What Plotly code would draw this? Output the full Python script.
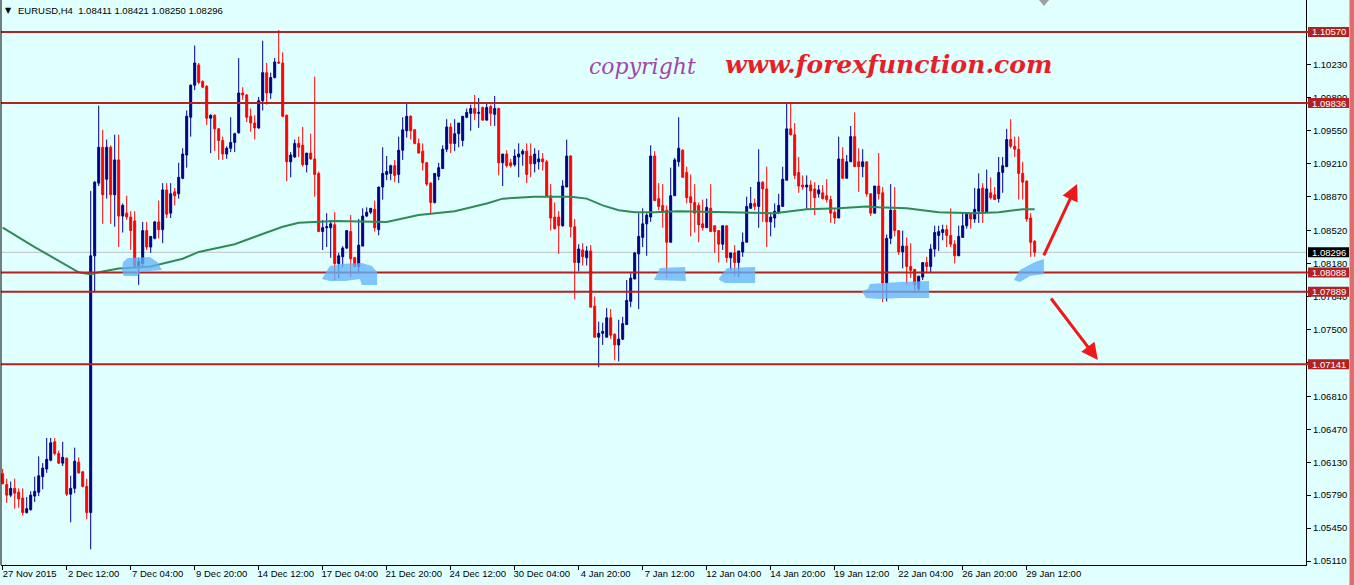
import plotly.graph_objects as go

# ---------------- data (EURUSD H4) ----------------
opens = [
    1.0601, 1.0590, 1.0579, 1.0586, 1.0582, 1.0576, 1.0561, 1.0564, 1.0578, 1.0582,
    1.0598, 1.0606, 1.0615, 1.0634, 1.0622, 1.0612, 1.0617, 1.0580, 1.0586, 1.0613,
    1.0603, 1.0588, 1.0561, 1.0826, 1.0901, 1.0938, 1.0905, 1.0938, 1.0889, 1.0925,
    1.0867, 1.0870, 1.0866, 1.0862, 1.0815, 1.0818, 1.0852, 1.0835, 1.0844, 1.0861,
    1.0853, 1.0894, 1.0870, 1.0892, 1.0890, 1.0906, 1.0930, 1.0969, 1.1002, 1.1023,
    1.1006, 1.1001, 1.0968, 1.0971, 1.0957, 1.0945, 1.0931, 1.0937, 1.0943, 1.0953,
    1.0994, 1.0992, 1.0970, 1.0963, 1.0958, 1.0986, 1.1015, 1.0994, 1.1010, 1.1026,
    1.1025, 1.0971, 1.0923, 1.0928, 1.0942, 1.0940, 1.0920, 1.0932, 1.0926, 1.0911,
    1.0851, 1.0855, 1.0855, 1.0858, 1.0818, 1.0825, 1.0834, 1.0851, 1.0824, 1.0815,
    1.0836, 1.0867, 1.0871, 1.0874, 1.0853, 1.0897, 1.0910, 1.0911, 1.0919, 1.0910,
    1.0935, 1.0955, 1.0970, 1.0956, 1.0942, 1.0934, 1.0922, 1.0901, 1.0881, 1.0908,
    1.0916, 1.0936, 1.0959, 1.0942, 1.0952, 1.0945, 1.0969, 1.0973, 1.0978, 1.0973,
    1.0979, 1.0966, 1.0980, 1.0972, 1.0978, 1.0922, 1.0931, 1.0922, 1.0920, 1.0928,
    1.0931, 1.0934, 1.0929, 1.0921, 1.0923, 1.0926, 1.0923, 1.0888, 1.0866, 1.0866,
    1.0857, 1.0897, 1.0929, 1.0856, 1.0819, 1.0832, 1.0824, 1.0831, 1.0774, 1.0742,
    1.0746, 1.0742, 1.0762, 1.0745, 1.0734, 1.0740, 1.0755, 1.0779, 1.0802, 1.0828,
    1.0845, 1.0859, 1.0866, 1.0929, 1.0885, 1.0878, 1.0873, 1.0840, 1.0888, 1.0923,
    1.0935, 1.0912, 1.0887, 1.0881, 1.0878, 1.0859, 1.0855, 1.0875, 1.0857, 1.0852,
    1.0838, 1.0857, 1.0824, 1.0829, 1.0819, 1.0830, 1.0840, 1.0875, 1.0880, 1.0877,
    1.0902, 1.0895, 1.0861, 1.0865, 1.0871, 1.0877, 1.0904, 1.0957, 1.0951, 1.0912,
    1.0899, 1.0897, 1.0899, 1.0895, 1.0890, 1.0891, 1.0888, 1.0884, 1.0871, 1.0865,
    1.0926, 1.0906, 1.0923, 1.0949, 1.0923, 1.0918, 1.0923, 1.0890, 1.0870, 1.0898,
    1.0891, 1.0798, 1.0844, 1.0873, 1.0852, 1.0830, 1.0836, 1.0815, 1.0812, 1.0792,
    1.0804, 1.0819, 1.0815, 1.0833, 1.0847, 1.0850, 1.0853, 1.0847, 1.0838, 1.0826,
    1.0845, 1.0857, 1.0869, 1.0864, 1.0872, 1.0896, 1.0871, 1.0891, 1.0889, 1.0885,
    1.0912, 1.0918, 1.0946, 1.0939, 1.0936, 1.0911, 1.0903, 1.0865, 1.08411,
]
highs = [
    1.0606, 1.0596, 1.0593, 1.0596, 1.0586, 1.0586, 1.0577, 1.0583, 1.0598, 1.0619,
    1.0612, 1.0638, 1.0638, 1.0638, 1.0625, 1.0634, 1.0618, 1.0599, 1.0628, 1.0618,
    1.0604, 1.0596, 1.0893, 1.0903, 1.0981, 1.0956, 1.0946, 1.0940, 1.0951, 1.0951,
    1.0880, 1.0888, 1.0872, 1.0872, 1.0824, 1.0861, 1.0861, 1.0846, 1.0862, 1.0883,
    1.0901, 1.0901, 1.0901, 1.0896, 1.0922, 1.0937, 1.0976, 1.1003, 1.1043, 1.1025,
    1.1007, 1.1002, 1.0972, 1.0972, 1.0958, 1.0949, 1.0939, 1.0969, 1.0953, 1.1030,
    1.1000, 1.0993, 1.0978, 1.0971, 1.0990, 1.1048, 1.1025, 1.1015, 1.1030, 1.1059,
    1.1036, 1.0972, 1.0933, 1.0946, 1.0949, 1.0959, 1.0932, 1.0952, 1.1011, 1.0913,
    1.0863, 1.0870, 1.0863, 1.0871, 1.0829, 1.0836, 1.0852, 1.0868, 1.0825, 1.0864,
    1.0875, 1.0876, 1.0875, 1.0883, 1.0897, 1.0938, 1.0929, 1.0920, 1.0925, 1.0949,
    1.0969, 1.0984, 1.0971, 1.0957, 1.0947, 1.0942, 1.0923, 1.0902, 1.0911, 1.0922,
    1.0940, 1.0967, 1.0963, 1.0967, 1.0963, 1.0970, 1.0978, 1.0982, 1.0992, 1.0989,
    1.0980, 1.0984, 1.0982, 1.0991, 1.0979, 1.0931, 1.0935, 1.0926, 1.0936, 1.0942,
    1.0936, 1.0942, 1.0942, 1.0937, 1.0935, 1.0932, 1.0925, 1.0900, 1.0881, 1.0872,
    1.0904, 1.0946, 1.0930, 1.0864, 1.0838, 1.0839, 1.0836, 1.0837, 1.0784, 1.0758,
    1.0757, 1.0772, 1.0771, 1.0746, 1.0760, 1.0763, 1.0801, 1.0808, 1.0830, 1.0870,
    1.0875, 1.0870, 1.0940, 1.0934, 1.0901, 1.0900, 1.0878, 1.0917, 1.0927, 1.0969,
    1.0936, 1.0918, 1.0910, 1.0900, 1.0881, 1.0884, 1.0885, 1.0900, 1.0857, 1.0852,
    1.0857, 1.0857, 1.0829, 1.0837, 1.0831, 1.0850, 1.0887, 1.0897, 1.0885, 1.0936,
    1.0903, 1.0918, 1.0870, 1.0880, 1.0890, 1.0918, 1.0984, 1.0984, 1.0963, 1.0928,
    1.0909, 1.0909, 1.0904, 1.0902, 1.0899, 1.0899, 1.0905, 1.0888, 1.0874, 1.0949,
    1.0938, 1.0930, 1.0960, 1.0974, 1.0937, 1.0936, 1.0923, 1.0890, 1.0898, 1.0932,
    1.0897, 1.0848, 1.0900, 1.0897, 1.0852, 1.0852, 1.0845, 1.0839, 1.0812, 1.0805,
    1.0819, 1.0825, 1.0838, 1.0857, 1.0857, 1.0858, 1.0858, 1.0875, 1.0842, 1.0857,
    1.0870, 1.0871, 1.0870, 1.0896, 1.0911, 1.0901, 1.0915, 1.0907, 1.0897, 1.0928,
    1.0928, 1.0957, 1.0967, 1.0949, 1.0949, 1.0923, 1.0904, 1.0870, 1.08421,
]
lows = [
    1.0590, 1.0571, 1.0577, 1.0565, 1.0566, 1.0558, 1.0560, 1.0563, 1.0572, 1.0578,
    1.0585, 1.0602, 1.0614, 1.0620, 1.0611, 1.0609, 1.0578, 1.0551, 1.0581, 1.0601,
    1.0587, 1.0554, 1.0523, 1.0789, 1.0898, 1.0859, 1.0885, 1.0859, 1.0856, 1.0835,
    1.0850, 1.0863, 1.0832, 1.0814, 1.0796, 1.0815, 1.0832, 1.0829, 1.0843, 1.0844,
    1.0839, 1.0865, 1.0865, 1.0878, 1.0885, 1.0905, 1.0917, 1.0949, 1.0997, 1.1003,
    1.0999, 1.0961, 1.0932, 1.0934, 1.0925, 1.0925, 1.0926, 1.0933, 1.0933, 1.0952,
    1.0987, 1.0964, 1.0954, 1.0946, 1.0957, 1.0976, 1.0982, 1.0988, 1.1009, 1.1024,
    1.0969, 1.0903, 1.0907, 1.0927, 1.0928, 1.0918, 1.0912, 1.0925, 1.0887, 1.0851,
    1.0832, 1.0835, 1.0824, 1.0801, 1.0803, 1.0814, 1.0833, 1.0804, 1.0814, 1.0808,
    1.0836, 1.0866, 1.0869, 1.0851, 1.0847, 1.0884, 1.0904, 1.0904, 1.0902, 1.0901,
    1.0925, 1.0948, 1.0946, 1.0941, 1.0932, 1.0914, 1.0898, 1.0870, 1.0880, 1.0904,
    1.0916, 1.0933, 1.0932, 1.0934, 1.0938, 1.0939, 1.0968, 1.0955, 1.0966, 1.0958,
    1.0966, 1.0966, 1.0960, 1.0960, 1.0909, 1.0898, 1.0917, 1.0917, 1.0918, 1.0907,
    1.0919, 1.0901, 1.0907, 1.0912, 1.0915, 1.0914, 1.0887, 1.0852, 1.0853, 1.0828,
    1.0856, 1.0897, 1.0845, 1.0781, 1.0810, 1.0816, 1.0816, 1.0773, 1.0742, 1.0711,
    1.0734, 1.0742, 1.0740, 1.0718, 1.0717, 1.0739, 1.0755, 1.0773, 1.0802, 1.0771,
    1.0835, 1.0826, 1.0861, 1.0883, 1.0873, 1.0855, 1.0803, 1.0840, 1.0888, 1.0918,
    1.0907, 1.0880, 1.0846, 1.0850, 1.0840, 1.0852, 1.0855, 1.0851, 1.0829, 1.0819,
    1.0832, 1.0819, 1.0811, 1.0805, 1.0804, 1.0825, 1.0840, 1.0875, 1.0873, 1.0855,
    1.0861, 1.0835, 1.0846, 1.0855, 1.0869, 1.0877, 1.0904, 1.0950, 1.0905, 1.0891,
    1.0894, 1.0874, 1.0874, 1.0868, 1.0886, 1.0884, 1.0881, 1.0860, 1.0859, 1.0865,
    1.0906, 1.0906, 1.0923, 1.0918, 1.0892, 1.0907, 1.0887, 1.0867, 1.0870, 1.0884,
    1.0778, 1.0779, 1.0838, 1.0846, 1.0827, 1.0813, 1.0796, 1.0803, 1.0789, 1.0789,
    1.0801, 1.0808, 1.0808, 1.0825, 1.0831, 1.0842, 1.0835, 1.0835, 1.0818, 1.0826,
    1.0845, 1.0854, 1.0854, 1.0860, 1.0860, 1.0860, 1.0871, 1.0884, 1.0884, 1.0881,
    1.0891, 1.0918, 1.0937, 1.0928, 1.0884, 1.0884, 1.0861, 1.0825, 1.08250,
]
closes = [
    1.0591, 1.0579, 1.0586, 1.0581, 1.0575, 1.0561, 1.0565, 1.0579, 1.0583, 1.0599,
    1.0607, 1.0616, 1.0633, 1.0622, 1.0612, 1.0618, 1.0580, 1.0586, 1.0614, 1.0602,
    1.0588, 1.0561, 1.0826, 1.0902, 1.0938, 1.0889, 1.0938, 1.0889, 1.0925, 1.0867,
    1.0878, 1.0866, 1.0852, 1.0815, 1.0820, 1.0852, 1.0835, 1.0846, 1.0861, 1.0853,
    1.0894, 1.0869, 1.0890, 1.0888, 1.0907, 1.0931, 1.0970, 1.1002, 1.1025, 1.1005,
    1.1000, 1.0968, 1.0971, 1.0957, 1.0945, 1.0931, 1.0937, 1.0943, 1.0952, 1.0994,
    1.0992, 1.0969, 1.0963, 1.0958, 1.0986, 1.1015, 1.0994, 1.1010, 1.1026, 1.1025,
    1.0970, 1.0923, 1.0930, 1.0942, 1.0938, 1.0920, 1.0932, 1.0926, 1.0910, 1.0851,
    1.0855, 1.0856, 1.0859, 1.0818, 1.0826, 1.0834, 1.0852, 1.0823, 1.0815, 1.0837,
    1.0867, 1.0871, 1.0875, 1.0855, 1.0897, 1.0911, 1.0913, 1.0919, 1.0909, 1.0935,
    1.0956, 1.0970, 1.0955, 1.0942, 1.0932, 1.0922, 1.0900, 1.0881, 1.0911, 1.0917,
    1.0936, 1.0959, 1.0942, 1.0952, 1.0963, 1.0970, 1.0974, 1.0978, 1.0973, 1.0974,
    1.0966, 1.0979, 1.0973, 1.0978, 1.0922, 1.0931, 1.0919, 1.0919, 1.0929, 1.0931,
    1.0934, 1.0910, 1.0921, 1.0931, 1.0926, 1.0923, 1.0887, 1.0865, 1.0854, 1.0857,
    1.0898, 1.0929, 1.0856, 1.0819, 1.0833, 1.0825, 1.0831, 1.0773, 1.0742, 1.0746,
    1.0748, 1.0762, 1.0744, 1.0734, 1.0740, 1.0756, 1.0780, 1.0803, 1.0829, 1.0846,
    1.0859, 1.0868, 1.0929, 1.0883, 1.0877, 1.0872, 1.0840, 1.0888, 1.0925, 1.0937,
    1.0907, 1.0886, 1.0881, 1.0870, 1.0858, 1.0855, 1.0876, 1.0851, 1.0851, 1.0838,
    1.0857, 1.0824, 1.0829, 1.0819, 1.0831, 1.0840, 1.0877, 1.0880, 1.0877, 1.0902,
    1.0895, 1.0861, 1.0866, 1.0872, 1.0878, 1.0905, 1.0957, 1.0951, 1.0909, 1.0898,
    1.0897, 1.0899, 1.0893, 1.0886, 1.0894, 1.0885, 1.0884, 1.0870, 1.0865, 1.0926,
    1.0906, 1.0923, 1.0949, 1.0918, 1.0918, 1.0923, 1.0890, 1.0870, 1.0898, 1.0890,
    1.0798, 1.0844, 1.0873, 1.0852, 1.0830, 1.0836, 1.0815, 1.0811, 1.0796, 1.0805,
    1.0819, 1.0815, 1.0833, 1.0850, 1.0851, 1.0853, 1.0847, 1.0838, 1.0826, 1.0846,
    1.0857, 1.0869, 1.0864, 1.0874, 1.0895, 1.0870, 1.0895, 1.0886, 1.0884, 1.0912,
    1.0919, 1.0946, 1.0939, 1.0936, 1.0911, 1.0902, 1.0864, 1.0840, 1.08296,
]

# moving average (green line), sampled at bar indices
ma_bar = [0, 8, 19, 22, 24, 29, 37, 41, 45, 49, 58, 66, 70, 74, 83, 96, 104, 113, 121,
          125, 133, 142, 146, 150, 154, 158, 163, 169, 180, 193, 201, 209, 216, 219,
          226, 234, 243, 249, 255, 258]
ma_val = [1.0855, 1.0835, 1.0809, 1.0807, 1.0809, 1.0813, 1.0815, 1.0819, 1.0823, 1.0830,
          1.0838, 1.0850, 1.0856, 1.0860, 1.0862, 1.0861, 1.0868, 1.0872, 1.0880,
          1.0885, 1.0887, 1.0887, 1.0885, 1.0878, 1.0873, 1.0871, 1.0871, 1.0872, 1.0871,
          1.0870, 1.0874, 1.0875, 1.0877, 1.0876, 1.0875, 1.0871, 1.0870, 1.0871, 1.0874,
          1.0874]

# time axis labels (every 16 bars)
x_labels = ["27 Nov 2015", "2 Dec 12:00", "7 Dec 04:00", "9 Dec 20:00", "14 Dec 12:00",
            "17 Dec 04:00", "21 Dec 20:00", "24 Dec 12:00", "30 Dec 04:00", "4 Jan 20:00",
            "7 Jan 12:00", "12 Jan 04:00", "14 Jan 20:00", "19 Jan 12:00", "22 Jan 04:00",
            "26 Jan 20:00", "29 Jan 12:00"]
label_step = 16

# price scale labels
y_ticks = [1.10570, 1.10230, 1.09890, 1.09550, 1.09210, 1.08870, 1.08520, 1.08180,
           1.07840, 1.07500, 1.07160, 1.06810, 1.06470, 1.06130, 1.05790, 1.05450, 1.05110]

# horizontal support / resistance levels and current price
levels = [1.10570, 1.09836, 1.08088, 1.07889, 1.07141]
current_price = 1.08296

# hand-drawn blue highlight blobs, (bar, price) vertices
patches = [
    [(29.8, 1.08113), (30.1, 1.08196), (31.3, 1.08237), (36.8, 1.08248), (38.6, 1.08196),
     (39.8, 1.08113), (36.8, 1.08103), (34.3, 1.08093), (33.8, 1.08051), (30.3, 1.08051)],
    [(79.8, 1.08021), (81.8, 1.08155), (84.3, 1.08175), (89.8, 1.08186), (92.3, 1.08155),
     (93.6, 1.08093), (93.6, 1.07959), (89.8, 1.07959), (89.3, 1.08021), (85.6, 1.08000),
     (81.8, 1.08000)],
    [(162.8, 1.08010), (164.3, 1.08134), (170.6, 1.08144), (170.8, 1.08000)],
    [(179.1, 1.08030), (181.1, 1.08134), (188.1, 1.08144), (188.1, 1.07979),
     (180.6, 1.07979), (179.1, 1.08010)],
    [(214.8, 1.07897), (216.3, 1.07917), (216.8, 1.07969), (224.3, 1.07990),
     (231.6, 1.08000), (231.6, 1.07824), (224.3, 1.07824), (219.3, 1.07814),
     (215.8, 1.07824)],
    [(252.8, 1.08010), (254.3, 1.08113), (258.1, 1.08196), (260.3, 1.08227),
     (260.3, 1.08072), (256.8, 1.08051), (254.3, 1.07990)],
]

# red scenario arrows: (tail bar, tail price, head bar, head price)
arrows = [(260.1, 1.08248, 268.6, 1.09000), (261.8, 1.07835, 273.8, 1.07185)]

# ---------------- layout geometry ----------------
W, H = 1354, 585
ML, MR, MT, MB = 1, 48, 0, 20
PW, PH = W - ML - MR, H - MT - MB
x_range = [-0.425, 325.825]
y_range = [1.050689, 1.10900]
ppx = (y_range[1] - y_range[0]) / PH  # price per pixel


def pxx(px):
    return (px - ML) / PW


def pxy(py):
    return 1 - (py - MT) / PH


BG = "#E0FFFF"
LEVEL_RED = "#B22222"
FONT = "Liberation Sans"

bars = list(range(len(closes)))

fig = go.Figure()
fig.add_trace(go.Candlestick(
    x=bars, open=opens, high=highs, low=lows, close=closes,
    increasing=dict(line=dict(color="#000080", width=1), fillcolor="#000080"),
    decreasing=dict(line=dict(color="#FF0000", width=1), fillcolor="#FF0000"),
    whiskerwidth=0, showlegend=False, hoverinfo="skip",
))
fig.add_trace(go.Scatter(
    x=ma_bar, y=ma_val, mode="lines", line=dict(color="#2E8B57", width=2),
    showlegend=False, hoverinfo="skip",
))

shapes = []
# current price line
shapes.append(dict(type="line", xref="paper", yref="y", x0=0, x1=1,
                   y0=current_price, y1=current_price,
                   line=dict(color="#C0C0C0", width=1), layer="below"))
for lv in levels:
    shapes.append(dict(type="line", xref="paper", yref="y", x0=0, x1=pxx(1309),
                       y0=lv, y1=lv, line=dict(color=LEVEL_RED, width=2), layer="above"))
# blue highlight blobs
for poly in patches:
    path = "M " + " L ".join(f"{b},{p}" for b, p in poly) + " Z"
    shapes.append(dict(type="path", xref="x", yref="y", path=path,
                       fillcolor="rgb(100,180,250)", opacity=0.78,
                       line=dict(width=0), layer="above"))
# price label boxes on the right scale
annotations = []
for lv, col in [(lv, LEVEL_RED) for lv in levels] + [(current_price, "#000000")]:
    shapes.append(dict(type="rect", xref="paper", yref="y", x0=pxx(1308), x1=pxx(1349),
                       y0=lv - 5 * ppx, y1=lv + 5 * ppx, fillcolor=col,
                       line=dict(width=0), layer="above"))
    annotations.append(dict(xref="paper", yref="y", x=pxx(1310), y=lv, xanchor="left",
                            yanchor="middle", text=f"{lv:.5f}", showarrow=False,
                            font=dict(family=FONT, size=9.5, color="white")))
# left border
shapes.append(dict(type="line", xref="paper", yref="paper", x0=0, x1=0, y0=0, y1=1,
                   line=dict(color="black", width=1)))
# right window edge strip
shapes.append(dict(type="rect", xref="paper", yref="paper", x0=pxx(1349.5), x1=pxx(1356),
                   y0=pxy(587), y1=pxy(-2), fillcolor="#DC6E6E", line=dict(width=0)))
# chart-shift marker at top
shapes.append(dict(type="path", xref="paper", yref="paper",
                   path=f"M {pxx(1039)},{pxy(0)} L {pxx(1049)},{pxy(0)} L {pxx(1044)},{pxy(6)} Z",
                   fillcolor="#A0A0A0", line=dict(width=0)))

# arrows
for tb, tp, hb, hp in arrows:
    annotations.append(dict(x=hb, y=hp, ax=tb, ay=tp, xref="x", yref="y", axref="x",
                            ayref="y", text="", showarrow=True, arrowhead=2,
                            arrowsize=1.1, arrowwidth=3, arrowcolor="#F01818"))

# header
annotations.append(dict(xref="paper", yref="paper", x=pxx(3), y=pxy(10), xanchor="left",
                        yanchor="middle", showarrow=False, text="▼",
                        font=dict(family="DejaVu Sans", size=8, color="black")))
annotations.append(dict(xref="paper", yref="paper", x=pxx(16), y=pxy(10), xanchor="left",
                        yanchor="middle", showarrow=False,
                        text="EURUSD,H4  1.08411 1.08421 1.08250 1.08296",
                        font=dict(family=FONT, size=9.5, color="black")))
# watermark
annotations.append(dict(xref="paper", yref="paper", x=pxx(642), y=pxy(66), xanchor="center",
                        yanchor="middle", showarrow=False, text="<i>copyright</i>",
                        font=dict(family="DejaVu Serif", size=22, color="#A046AA")))
annotations.append(dict(xref="paper", yref="paper", x=pxx(888), y=pxy(65), xanchor="center",
                        yanchor="middle", showarrow=False,
                        text="<i><b>www.forexfunction.com</b></i>",
                        font=dict(family="DejaVu Serif", size=25, color="#E81E28")))

fig.update_layout(
    width=W, height=H, margin=dict(l=ML, r=MR, t=MT, b=MB, pad=0),
    paper_bgcolor=BG, plot_bgcolor=BG, showlegend=False,
    shapes=shapes, annotations=annotations,
    xaxis=dict(type="linear", range=x_range, rangeslider=dict(visible=False),
               showgrid=False, zeroline=False, showline=True, linecolor="black",
               linewidth=1, ticks="outside", ticklen=4, tickcolor="black",
               tickvals=bars[::label_step], ticktext=x_labels,
               ticklabelshift=27, ticklabelstandoff=-4,
               tickfont=dict(family=FONT, size=9.5, color="black"), fixedrange=True),
    yaxis=dict(side="right", range=y_range, showgrid=False, zeroline=False,
               showline=True, linecolor="black", linewidth=1, ticks="outside",
               ticklen=4, tickcolor="black", tickvals=y_ticks,
               ticktext=[f"{v:.5f}" for v in y_ticks],
               tickfont=dict(family=FONT, size=9.5, color="black"), fixedrange=True),
)

fig.write_html(
    "out.html",
    config={"displayModeBar": False},
    post_script="document.body.style.margin='0';document.body.style.background='#E0FFFF';",
)
